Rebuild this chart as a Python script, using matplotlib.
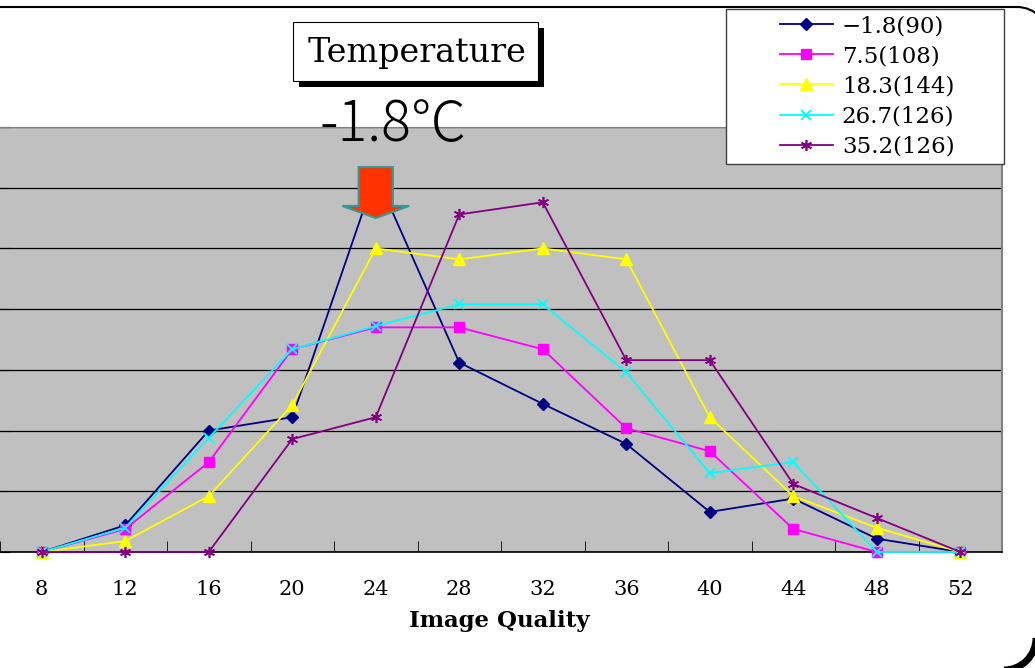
import numpy as np
import matplotlib
matplotlib.use("Agg")
import matplotlib.pyplot as plt
from matplotlib.patches import Rectangle, Polygon, Arc

# image quality bins and the share of samples in each bin, per temperature
quality = [8, 12, 16, 20, 24, 28, 32, 36, 40, 44, 48, 52]
t_m18 = [0, 2.2, 10.0, 11.1, 31.1, 15.6, 12.2, 8.9, 3.3, 4.4, 1.1, 0]
t_75 = [0, 1.9, 7.4, 16.7, 18.5, 18.5, 16.7, 10.2, 8.3, 1.9, 0, 0]
t_183 = [0, 0.9, 4.6, 12.1, 25.0, 24.1, 25.0, 24.1, 11.1, 4.6, 2.0, 0]
t_267 = [0, 2.0, 9.4, 16.7, 18.6, 20.4, 20.4, 14.8, 6.5, 7.4, 0, 0]
t_352 = [0, 0, 0, 9.3, 11.1, 27.8, 28.8, 15.8, 15.8, 5.6, 2.8, 0]
labels = ["\u22121.8(90)", "7.5(108)", "18.3(144)", "26.7(126)", "35.2(126)"]

W, H = 1035, 668
fig = plt.figure(figsize=(W / 100, H / 100), dpi=100)
fig.patch.set_facecolor("white")

ax = fig.add_axes([0 / W, 1 - 552 / H, 1002 / W, 425 / H])
ax.set_facecolor("#C0C0C0")

series = [
    (t_m18, "#000080", "D", 6, {}),
    (t_75, "#FF00FF", "s", 6.5, {}),
    (t_183, "#FFFF00", "^", 8, {}),
    (t_267, "#00FFFF", "x", 7, {"markeredgewidth": 1.3}),
    (t_352, "#800080", (6, 2, 0), 8, {"markeredgewidth": 1.2}),
]
x = np.arange(len(quality))
handles = []
for vals, col, mk, ms, extra in series:
    ln, = ax.plot(x, vals, color=col, lw=1.3, marker=mk, ms=ms,
                  markerfacecolor=col, markeredgecolor=col,
                  clip_on=False, zorder=3, **extra)
    handles.append(ln)

ax.set_xlim(-0.5, len(quality) - 0.5)
ax.set_ylim(0, 35)
ax.set_yticks(np.arange(0, 36, 5))
ax.yaxis.grid(True, color="black", lw=0.9)
ax.set_axisbelow(True)
ax.tick_params(axis="y", direction="in", length=7, color="black", labelleft=False)

ax.set_xticks(x)
ax.set_xticklabels([str(q) for q in quality], fontfamily="DejaVu Serif", fontsize=15)
ax.set_xticks(np.arange(-0.5, len(quality)), minor=True)
ax.tick_params(axis="x", which="major", length=0, pad=20)
ax.tick_params(axis="x", which="minor", direction="in", length=8, color="black")

ax.spines["left"].set_visible(False)
ax.spines["bottom"].set_color("black")
ax.spines["bottom"].set_linewidth(1.2)
ax.spines["top"].set_color("#808080")
ax.spines["right"].set_color("#808080")
ax.spines["right"].set_linewidth(1.5)

# arrow pointing down at the -1.8 peak
pk = int(np.argmax(t_m18))
pv = t_m18[pk]
sw, hw = 0.205, 0.40
arrow = Polygon([
    (pk - sw, pv + 0.6), (pk + sw, pv + 0.6), (pk + sw, pv - 2.6),
    (pk + hw, pv - 2.6), (pk, pv - 3.6), (pk - hw, pv - 2.6),
    (pk - sw, pv - 2.6)], closed=True, facecolor="#FF3300",
    edgecolor="#339999", lw=1.5, zorder=5, clip_on=False)
ax.add_patch(arrow)

# decoration layer in pixel coordinates
deco = fig.add_axes([0, 0, 1, 1])
deco.set_xlim(0, W)
deco.set_ylim(H, 0)
deco.axis("off")
deco.set_zorder(10)

# chart-area border: top edge with rounded corners at the right
deco.plot([0, 1017], [7, 7], color="black", lw=1.5)
deco.add_patch(Arc((1017, 39), 64, 64, theta1=270, theta2=360,
                   color="black", lw=1.5))
deco.add_patch(Arc((1004, 638), 64, 64, theta1=0, theta2=90,
                   color="black", lw=5))

# title box with shadow
deco.add_patch(Rectangle((299, 28), 245, 59, facecolor="black", edgecolor="none"))
deco.add_patch(Rectangle((293, 22), 245, 59, facecolor="white", edgecolor="black", lw=0.8))
deco.text(417, 53, "Temperature", fontfamily="DejaVu Serif", fontsize=24,
          ha="center", va="center", color="black")
deco.text(393, 141, "-1.8\u2103", fontfamily=["Noto Sans CJK JP", "DejaVu Sans"],
          fontweight="light", fontsize=40, ha="center", va="baseline", color="black")

# legend
deco.add_patch(Rectangle((726, 9), 278, 155, facecolor="white", edgecolor="#404040", lw=1))
deco.legend(handles, labels, loc="upper left", bbox_to_anchor=(780, 15),
            bbox_transform=deco.transData, frameon=False, borderpad=0,
            borderaxespad=0, handlelength=2.3, handletextpad=0.4,
            labelspacing=0.36, prop={"family": "DejaVu Serif", "size": 16.5})

fig.text(499 / W, 1 - 621 / H, "Image Quality", fontfamily="DejaVu Serif",
         fontweight="bold", fontsize=16.5, ha="center", va="center")

fig.savefig("out.png", dpi=100)
